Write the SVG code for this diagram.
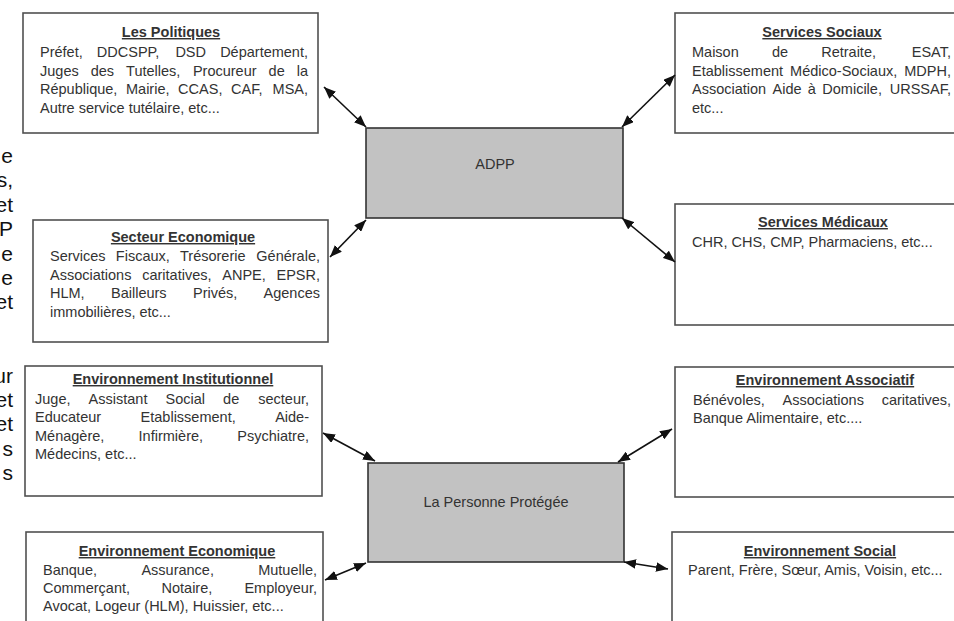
<svg xmlns="http://www.w3.org/2000/svg" width="954" height="621" viewBox="0 0 954 621">
<style>
.box{fill:#fff;stroke:#505050;stroke-width:1.6}
.hub{fill:#c2c2c2;stroke:#333;stroke-width:1.6}
text{font-family:"Liberation Sans",Arial,sans-serif;font-size:14.5px;fill:#333}
.h{font-weight:bold;text-anchor:middle;text-decoration:underline}
.e{text-anchor:end}
.c{text-anchor:middle}
.frag{font-size:21px;fill:#111;text-anchor:end}
.conn line{stroke:#111;stroke-width:1.6;marker-start:url(#ah);marker-end:url(#ah)}
</style>
<defs>
<marker id="ah" viewBox="0 0 10 8" refX="10" refY="4" markerWidth="12" markerHeight="9.6" markerUnits="userSpaceOnUse" orient="auto-start-reverse">
<path d="M0,0 L10,4 L0,8 z" fill="#111"/>
</marker>
</defs>
<rect width="954" height="621" fill="#fff"/>

<g id="fragments">
<text class="frag" x="13" y="163">e</text>
<text class="frag" x="13" y="187.4">s,</text>
<text class="frag" x="13" y="211.8">et</text>
<text class="frag" x="13" y="236.2">P</text>
<text class="frag" x="13" y="260.6">e</text>
<text class="frag" x="13" y="285">e</text>
<text class="frag" x="13" y="309.4">et</text>
<text class="frag" x="13" y="382.6">ur</text>
<text class="frag" x="13" y="407">et</text>
<text class="frag" x="13" y="431.4">et</text>
<text class="frag" x="13" y="455.8">s</text>
<text class="frag" x="13" y="480.2">s</text>
</g>

<g id="les-politiques">
<rect class="box" x="23" y="13" width="295" height="120"/>
<text class="h" x="171" y="37">Les Politiques</text>
<text y="57"><tspan x="40">Préfet,</tspan><tspan x="96.8">DDCSPP,</tspan><tspan x="175.4">DSD</tspan></text>
<text class="e" x="308" y="57">Département,</text>
<text y="75.5"><tspan x="40">Juges</tspan><tspan x="90.7">des</tspan><tspan x="126.1">Tutelles,</tspan><tspan x="192.9">Procureur</tspan><tspan x="268.6">de</tspan></text>
<text class="e" x="308" y="75.5">la</text>
<text y="94"><tspan x="40">République,</tspan><tspan x="126">Mairie,</tspan><tspan x="178.1">CCAS,</tspan><tspan x="231">CAF,</tspan></text>
<text class="e" x="308" y="94">MSA,</text>
<text x="40" y="112.5">Autre service tutélaire, etc...</text>
</g>

<g id="services-sociaux">
<rect class="box" x="675" y="13" width="290" height="120"/>
<text class="h" x="822" y="37">Services Sociaux</text>
<text y="57"><tspan x="692">Maison</tspan><tspan x="771.9">de</tspan><tspan x="821.2">Retraite,</tspan></text>
<text class="e" x="951" y="57">ESAT,</text>
<text y="75.5"><tspan x="692">Etablissement</tspan><tspan x="790.1">Médico-Sociaux,</tspan></text>
<text class="e" x="951" y="75.5">MDPH,</text>
<text y="94"><tspan x="692">Association</tspan><tspan x="772.5">Aide</tspan><tspan x="807.8">à</tspan><tspan x="822.3">Domicile,</tspan></text>
<text class="e" x="951" y="94">URSSAF,</text>
<text x="692" y="112.5">etc...</text>
</g>

<g id="adpp">
<rect class="hub" x="366" y="128" width="257" height="90"/>
<text class="c" x="495" y="169">ADPP</text>
</g>

<g id="secteur-economique">
<rect class="box" x="33" y="220" width="295" height="122"/>
<text class="h" x="183" y="242">Secteur Economique</text>
<text y="261"><tspan x="50">Services</tspan><tspan x="115.8">Fiscaux,</tspan><tspan x="180">Trésorerie</tspan></text>
<text class="e" x="320" y="261">Générale,</text>
<text y="279.5"><tspan x="50">Associations</tspan><tspan x="142.2">caritatives,</tspan><tspan x="222.3">ANPE,</tspan></text>
<text class="e" x="320" y="279.5">EPSR,</text>
<text y="298"><tspan x="50">HLM,</tspan><tspan x="111">Bailleurs</tspan><tspan x="193">Privés,</tspan></text>
<text class="e" x="320" y="298">Agences</text>
<text x="50" y="316.5">immobilières, etc...</text>
</g>

<g id="services-medicaux">
<rect class="box" x="675" y="204" width="290" height="121"/>
<text class="h" x="823" y="227">Services Médicaux</text>
<text x="692" y="247">CHR, CHS, CMP, Pharmaciens, etc...</text>
</g>

<g id="environnement-institutionnel">
<rect class="box" x="25" y="366" width="297" height="130"/>
<text class="h" x="173" y="384">Environnement Institutionnel</text>
<text y="404"><tspan x="35">Juge,</tspan><tspan x="88.6">Assistant</tspan><tspan x="165.5">Social</tspan><tspan x="223.1">de</tspan></text>
<text class="e" x="309" y="404">secteur,</text>
<text y="422"><tspan x="35">Educateur</tspan><tspan x="140.6">Etablissement,</tspan></text>
<text class="e" x="309" y="422">Aide-</text>
<text y="440.5"><tspan x="35">Ménagère,</tspan><tspan x="138.6">Infirmière,</tspan></text>
<text class="e" x="309" y="440.5">Psychiatre,</text>
<text x="35" y="459">Médecins, etc...</text>
</g>

<g id="environnement-associatif">
<rect class="box" x="675" y="367" width="290" height="130"/>
<text class="h" x="825" y="385">Environnement Associatif</text>
<text y="405"><tspan x="693">Bénévoles,</tspan><tspan x="782.5">Associations</tspan></text>
<text class="e" x="951" y="405">caritatives,</text>
<text x="693" y="423">Banque Alimentaire, etc....</text>
</g>

<g id="la-personne-protegee">
<rect class="hub" x="368" y="463" width="256" height="99"/>
<text class="c" x="496" y="507">La Personne Protégée</text>
</g>

<g id="environnement-economique">
<rect class="box" x="26" y="532" width="297" height="100"/>
<text class="h" x="177" y="556">Environnement Economique</text>
<text y="575"><tspan x="43">Banque,</tspan><tspan x="141.4">Assurance,</tspan></text>
<text class="e" x="317" y="575">Mutuelle,</text>
<text y="593"><tspan x="43">Commerçant,</tspan><tspan x="161.5">Notaire,</tspan></text>
<text class="e" x="317" y="593">Employeur,</text>
<text x="43" y="611">Avocat, Logeur (HLM), Huissier, etc...</text>
</g>

<g id="environnement-social">
<rect class="box" x="672" y="532" width="293" height="100"/>
<text class="h" x="820" y="556">Environnement Social</text>
<text x="688" y="575">Parent, Frère, Sœur, Amis, Voisin, etc...</text>
</g>

<g id="connectors" class="conn">
<line x1="324" y1="87" x2="366" y2="127"/>
<line x1="675" y1="75" x2="622" y2="127"/>
<line x1="330" y1="257" x2="366" y2="220"/>
<line x1="675" y1="262" x2="622" y2="218"/>
<line x1="323" y1="433" x2="375" y2="461"/>
<line x1="672" y1="429" x2="618" y2="462"/>
<line x1="325" y1="580" x2="366" y2="563"/>
<line x1="668" y1="569" x2="624" y2="562"/>
</g>
</svg>
